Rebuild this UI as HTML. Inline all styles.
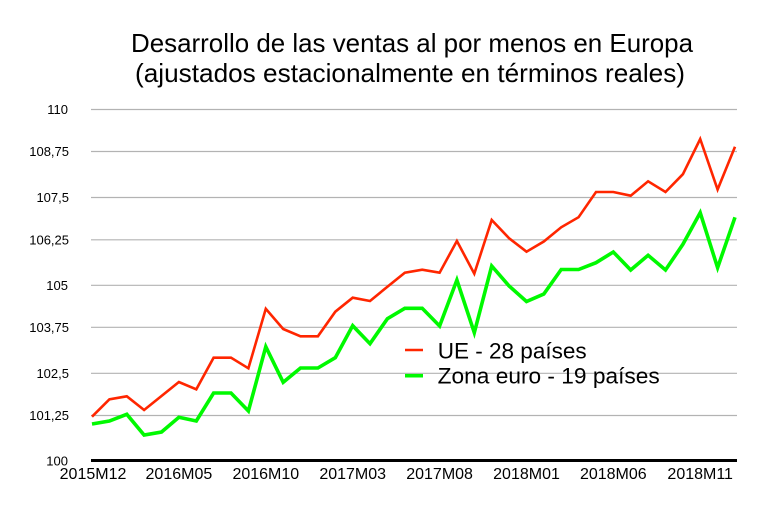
<!DOCTYPE html>
<html>
<head>
<meta charset="utf-8">
<style>
  html, body { margin:0; padding:0; background:#fff; }
  svg { display:block; }
  text { font-family: "Liberation Sans", "DejaVu Sans", sans-serif; fill:#000; }
</style>
</head>
<body>
<svg width="780" height="509" viewBox="0 0 780 509" xmlns="http://www.w3.org/2000/svg">
  <rect x="0" y="0" width="780" height="509" fill="#fff"/>

  <!-- Title -->
  <text x="131" y="52" font-size="26" textLength="562" lengthAdjust="spacingAndGlyphs">Desarrollo de las ventas al por menos en Europa</text>
  <text x="135" y="82" font-size="26" textLength="550" lengthAdjust="spacingAndGlyphs">(ajustados estacionalmente en términos reales)</text>

  <!-- Gridlines -->
  <g stroke="#b3b3b3" stroke-width="1.2">
    <line x1="91" y1="109.5" x2="737" y2="109.5"/>
    <line x1="91" y1="151.5" x2="737" y2="151.5"/>
    <line x1="91" y1="197.5" x2="737" y2="197.5"/>
    <line x1="91" y1="239.8" x2="737" y2="239.8"/>
    <line x1="91" y1="285.3" x2="737" y2="285.3"/>
    <line x1="91" y1="327.3" x2="737" y2="327.3"/>
    <line x1="91" y1="373.3" x2="737" y2="373.3"/>
    <line x1="91" y1="415.5" x2="737" y2="415.5"/>
  </g>

  <!-- Y labels -->
  <g font-size="13" text-anchor="end">
    <text x="68" y="114">110</text>
    <text x="69" y="156">108,75</text>
    <text x="69" y="202">107,5</text>
    <text x="69" y="244.5">106,25</text>
    <text x="68" y="290">105</text>
    <text x="69" y="332">103,75</text>
    <text x="69" y="378">102,5</text>
    <text x="69" y="420">101,25</text>
    <text x="68" y="465.5">100</text>
  </g>

  <!-- Series: UE-28 (red) -->
  <polyline fill="none" stroke="#ff2600" stroke-width="2.6" stroke-linejoin="miter" stroke-miterlimit="10"
    points="92,416.7 109.4,399.3 126.8,396.3 144.1,410 161.5,396 178.9,382 196.3,389.3 213.6,357.7 231,357.7 248.4,368.3 265.8,308.8 283.2,329 300.5,336.3 317.9,336.3 335.3,311.7 352.7,297.7 370,301 387.4,286.7 404.8,272.7 422.2,269.7 439.6,272.7 456.9,241 474.3,273.7 491.7,220 509.1,238.3 526.5,251.7 543.8,241.5 561.2,227.3 578.6,217.2 596,192 613.3,192 630.7,195.7 648.1,181.3 665.5,192 682.9,174.2 700.2,139 717.6,189.5 735,146.7"/>

  <!-- Series: Zona euro-19 (green) -->
  <polyline fill="none" stroke="#00f900" stroke-width="3.6" stroke-linejoin="miter" stroke-miterlimit="10"
    points="92,424 109.4,421 126.8,414.3 144.1,435 161.5,432 178.9,417.3 196.3,421 213.6,393 231,393 248.4,411 265.8,346.7 283.2,382.3 300.5,368 317.9,368 335.3,357.7 352.7,325.7 370,343.7 387.4,318.7 404.8,308.3 422.2,308.3 439.6,326 456.9,280 474.3,332.7 491.7,266 509.1,286 526.5,301.5 543.8,294 561.2,269.5 578.6,269.5 596,262.7 613.3,252 630.7,270 648.1,255.3 665.5,270 682.9,244.3 700.2,212.7 717.6,267.7 735,217.3"/>

  <!-- X axis -->
  <rect x="91" y="459" width="646" height="3" fill="#000"/>

  <!-- X labels -->
  <g font-size="16" text-anchor="middle">
    <text x="93" y="479">2015M12</text>
    <text x="178.9" y="479">2016M05</text>
    <text x="265.8" y="479">2016M10</text>
    <text x="352.7" y="479">2017M03</text>
    <text x="439.6" y="479">2017M08</text>
    <text x="526.5" y="479">2018M01</text>
    <text x="613.3" y="479">2018M06</text>
    <text x="700.2" y="479">2018M11</text>
  </g>

  <!-- Legend -->
  <line x1="405" y1="350" x2="423" y2="350" stroke="#ff2600" stroke-width="2.6"/>
  <line x1="405" y1="375.7" x2="423" y2="375.7" stroke="#00f900" stroke-width="3.6"/>
  <text x="437.7" y="358.3" font-size="22.5" textLength="149" lengthAdjust="spacingAndGlyphs">UE - 28 países</text>
  <text x="437.7" y="383.5" font-size="22.5" textLength="222" lengthAdjust="spacingAndGlyphs">Zona euro - 19 países</text>
</svg>
</body>
</html>
